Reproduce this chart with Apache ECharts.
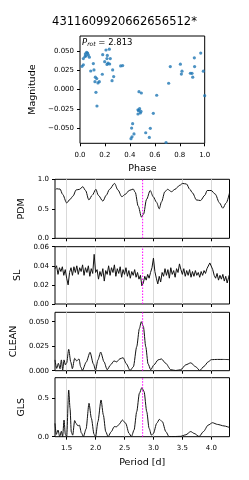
<!DOCTYPE html>
<html><head><meta charset="utf-8">
<script src="https://cdn.jsdelivr.net/npm/echarts@6/dist/echarts.min.js"></script>
<style>html,body{margin:0;padding:0;background:#fff}#c{width:249px;height:480px}</style>
</head><body><div id="c"></div>
<script>
const chartTitle = '4311609920662656512*';
const prot = 2.813;

const phase = [0.016,0.027,0.027,0.040,0.043,0.053,0.061,0.067,0.075,0.048,0.086,0.107,0.112,0.123,0.134,0.120,0.144,0.155,0.128,0.136,0.182,0.179,0.198,0.2085,0.219,0.216,0.225,0.235,0.243,0.238,0.2165,0.257,0.270,0.262,0.326,0.342,
  0.473,0.492,0.478,0.470,0.489,0.465,0.484,0.465,0.588,0.615,0.422,0.414,0.433,0.417,0.409,0.527,0.564,0.556,0.690,0.711,0.724,0.805,0.818,0.813,0.885,0.898,0.904,0.917,0.919,0.968,0.989,1.0];
const mag = [0.030,0.032,0.040,0.0425,0.046,0.048,0.047,0.0447,0.0418,0.0435,0.024,0.0335,0.0254,0.016,0.0142,0.0103,0.0086,0.0103,-0.0034,-0.021,0.045,0.0198,0.036,0.051,0.044,0.040,0.034,0.052,0.040,0.033,0.0325,0.0116,0.0168,0.0254,0.0305,0.031,
  -0.0026,-0.0043,-0.0245,-0.027,-0.028,-0.0313,-0.030,-0.026,-0.0304,-0.0072,-0.0438,-0.0494,-0.057,-0.0606,-0.063,-0.0554,-0.0498,-0.0614,-0.068,0.0082,0.0297,0.0327,0.0237,0.020,0.0211,0.021,0.016,0.0409,0.0297,0.047,0.0237,-0.0077];

const phaseTicks = [0, 0.2, 0.4, 0.6, 0.8, 1.0];
const magTicks = [-0.05, -0.025, 0, 0.025, 0.05];
const periodTicks = [1.5, 2.0, 2.5, 3.0, 3.5, 4.0];
const pdmTicks = [0, 0.5, 1.0];
const slTicks = [0, 0.02, 0.04, 0.06];
const cleanTicks = [0, 0.025, 0.05];
const glsTicks = [0, 0.5];

const pdmPeriod = [1.310,1.330,1.360,1.385,1.430,1.500,1.558,1.610,1.664,1.722,1.779,1.826,1.884,1.942,2.005,2.046,2.126,2.184,2.241,2.328,2.385,2.454,2.512,2.581,2.650,2.685,2.736,2.794,2.829,2.881,2.944,2.996,3.054,3.100,3.140,3.198,3.244,3.313,3.371,3.457,3.503,3.572,3.629,3.675,3.744,3.814,3.889,3.929,3.998,4.067,4.142,4.200,4.258,4.315];
const pdmValue = [0.83,0.84,0.835,0.835,0.745,0.60,0.66,0.717,0.82,0.83,0.875,0.81,0.65,0.73,0.83,0.73,0.63,0.73,0.83,0.93,0.82,0.705,0.745,0.81,0.835,0.78,0.547,0.36,0.41,0.66,0.81,0.705,0.61,0.50,0.62,0.79,0.83,0.79,0.83,0.90,0.93,0.92,0.83,0.77,0.65,0.64,0.73,0.81,0.81,0.75,0.60,0.51,0.60,0.77];

const slPeriod = [1.300,1.325,1.350,1.375,1.400,1.425,1.450,1.475,1.500,1.525,1.550,1.575,1.600,1.625,1.650,1.675,1.700,1.725,1.750,1.775,1.800,1.825,1.850,1.875,1.900,1.925,1.950,1.975,2.000,2.025,2.050,2.075,2.100,2.125,2.150,2.175,2.200,2.225,2.250,2.275,2.300,2.325,2.350,2.375,2.400,2.425,2.450,2.475,2.500,2.525,2.550,2.575,2.600,2.625,2.650,2.675,2.700,2.725,2.750,2.775,2.800,2.825,2.850,2.875,2.900,2.925,2.950,2.975,3.000,3.025,3.050,3.075,3.100,3.125,3.150,3.175,3.200,3.225,3.250,3.275,3.300,3.325,3.350,3.375,3.400,3.425,3.450,3.475,3.500,3.525,3.550,3.575,3.600,3.625,3.650,3.675,3.700,3.725,3.750,3.775,3.800,3.825,3.850,3.875,3.900,3.925,3.950,3.975,4.000,4.025,4.050,4.075,4.100,4.125,4.150,4.175,4.200,4.225,4.250,4.275,4.300,4.315];
const slValue = [0.037,0.040,0.031,0.038,0.034,0.039,0.030,0.036,0.027,0.020,0.033,0.038,0.030,0.039,0.033,0.040,0.031,0.038,0.034,0.041,0.030,0.038,0.033,0.040,0.029,0.037,0.032,0.052,0.033,0.036,0.026,0.034,0.029,0.037,0.024,0.035,0.031,0.040,0.030,0.038,0.033,0.041,0.029,0.037,0.032,0.039,0.028,0.036,0.031,0.038,0.029,0.035,0.027,0.034,0.030,0.036,0.028,0.033,0.026,0.030,0.019,0.022,0.029,0.025,0.031,0.027,0.033,0.038,0.048,0.034,0.027,0.021,0.029,0.023,0.033,0.029,0.037,0.030,0.036,0.027,0.038,0.031,0.035,0.028,0.037,0.033,0.042,0.036,0.031,0.037,0.029,0.035,0.030,0.036,0.028,0.034,0.029,0.035,0.030,0.033,0.028,0.034,0.030,0.035,0.032,0.037,0.039,0.043,0.044,0.036,0.030,0.027,0.032,0.025,0.030,0.026,0.031,0.024,0.029,0.022,0.028,0.031];

const cleanPeriod = [1.298,1.327,1.356,1.385,1.408,1.431,1.454,1.477,1.500,1.535,1.570,1.598,1.638,1.673,1.713,1.742,1.771,1.840,1.904,1.961,2.000,2.040,2.088,2.146,2.200,2.260,2.318,2.365,2.417,2.475,2.532,2.596,2.653,2.711,2.757,2.790,2.826,2.867,2.907,2.953,3.010,3.080,3.138,3.213,3.300,3.386,3.472,3.559,3.645,3.732,3.800,3.876,3.945,4.003,4.107,4.200,4.315];
const cleanValue = [0.011,0.0024,0.0075,0.002,0.011,0.0007,0.011,0.006,0.008,0.0218,0.009,0.002,0.0126,0.010,0.012,0.004,0.0003,0.009,0.0188,0.007,0.0007,0.011,0.019,0.009,0.001,0.006,0.010,0.009,0.012,0.0133,0.007,0.0002,0.004,0.0245,0.043,0.050,0.045,0.0245,0.007,0.001,0.006,0.011,0.012,0.0075,0.001,0.0002,0.001,0.006,0.008,0.004,0.0002,0.0045,0.009,0.0113,0.0115,0.0115,0.0113];

const glsPeriod = [1.298,1.320,1.350,1.379,1.408,1.430,1.454,1.477,1.500,1.535,1.558,1.580,1.604,1.638,1.660,1.696,1.720,1.754,1.790,1.835,1.886,1.927,1.973,2.000,2.040,2.094,2.134,2.175,2.215,2.273,2.320,2.365,2.405,2.463,2.520,2.578,2.620,2.665,2.711,2.757,2.800,2.838,2.884,2.925,2.965,3.000,3.057,3.103,3.155,3.213,3.270,3.357,3.470,3.560,3.645,3.703,3.790,3.865,3.945,4.020,4.107,4.220,4.315];
const glsValue = [0.174,0.03,0.087,0.002,0.07,0.002,0.217,0.03,0.002,0.608,0.37,0.06,0.02,0.21,0.175,0.14,0.15,0.05,0.002,0.10,0.435,0.24,0.03,0.002,0.195,0.478,0.283,0.067,0.002,0.067,0.13,0.13,0.16,0.217,0.175,0.043,0.002,0.087,0.326,0.565,0.638,0.586,0.326,0.109,0.02,0.043,0.175,0.226,0.195,0.067,0.002,0.002,0.005,0.025,0.067,0.043,0.002,0.067,0.15,0.182,0.16,0.14,0.12];

const FONT = 'DejaVu Sans';
const pMin = 1.298, pMax = 4.315;
const pairs = (xs, ys) => xs.map((x, i) => [x, ys[i]]);

const grids = [
  {left: 80, top: 36, width: 124.7, height: 107.3},
  {left: 55, top: 179.3, width: 174.5, height: 59},
  {left: 55, top: 246.7, width: 174.5, height: 57.3},
  {left: 55, top: 312.3, width: 174.5, height: 58.4},
  {left: 55, top: 377.7, width: 174.5, height: 59}
].map(g => Object.assign({show: true, borderColor: '#000', borderWidth: 1, backgroundColor: 'transparent', containLabel: false}, g));

const labelStyle = {fontFamily: FONT, fontSize: 7, color: '#000'};
const nameStyle = {fontFamily: FONT, fontSize: 9.5, color: '#000'};
const tick = vals => ({show: true, length: 3, inside: false, customValues: vals, lineStyle: {color: '#000', width: 1}});

function periodX(idx, showLabels) {
  return {
    type: 'value', gridIndex: idx, min: pMin, max: pMax,
    axisLine: {show: false, onZero: false},
    axisTick: tick(periodTicks),
    axisLabel: Object.assign({show: showLabels, margin: 8, customValues: periodTicks, formatter: v => v.toFixed(1)}, labelStyle),
    splitLine: {show: true, lineStyle: {color: '#d9d9d9', width: 1}},
    name: showLabels ? 'Period [d]' : '', nameLocation: 'middle', nameGap: 21, nameTextStyle: nameStyle
  };
}
function yAx(idx, min, max, ticks, dec, name, gap) {
  return {
    type: 'value', gridIndex: idx, min: min, max: max,
    axisLine: {show: false, onZero: false},
    axisTick: tick(ticks),
    axisLabel: Object.assign({margin: 6, customValues: ticks, formatter: v => v.toFixed(dec).replace('-', '\u2212')}, labelStyle),
    splitLine: {show: false},
    name: name, nameLocation: 'middle', nameRotate: 90, nameGap: gap, nameTextStyle: nameStyle
  };
}

function lineSeries(idx, data, smooth) {
  return {
    type: 'line', xAxisIndex: idx, yAxisIndex: idx, data: data, showSymbol: false, z: 2,
    smooth: smooth, smoothMonotone: 'x', lineStyle: {color: '#111', width: 1}, animation: false
  };
}
function protLine(idx, yMax) {
  return {
    type: 'line', xAxisIndex: idx, yAxisIndex: idx, data: [[prot, 0], [prot, yMax]],
    showSymbol: false, silent: true, z: 3, animation: false,
    lineStyle: {color: '#ff00ff', type: [1.5, 1.5], width: 1}
  };
}

const option = {
  animation: false,
  title: {text: chartTitle, left: 'center', top: 11, textStyle: {fontFamily: FONT, fontSize: 11.5, fontWeight: 'normal', color: '#000'}},
  grid: grids,
  xAxis: [
    {
      type: 'value', gridIndex: 0, min: 0, max: 1,
      axisLine: {show: false, onZero: false},
      axisTick: tick(phaseTicks),
      axisLabel: Object.assign({margin: 8, customValues: phaseTicks, formatter: v => v.toFixed(1)}, labelStyle),
      splitLine: {show: false},
      name: 'Phase', nameLocation: 'middle', nameGap: 20, nameTextStyle: nameStyle
    },
    periodX(1, false), periodX(2, false), periodX(3, false), periodX(4, true)
  ],
  yAxis: [
    yAx(0, -0.069, 0.069, magTicks, 3, 'Magnitude', 41),
    yAx(1, 0, 1, pdmTicks, 1, 'PDM', 28),
    yAx(2, 0, 0.06, slTicks, 2, 'SL', 30),
    yAx(3, 0, 0.0596, cleanTicks, 3, 'CLEAN', 32),
    yAx(4, 0, 0.768, glsTicks, 1, 'GLS', 28)
  ],
  graphic: [{
    type: 'text', left: 82, top: 38, silent: true,
    style: {
      text: '{p|P}{s|rot}{n| = ' + prot.toFixed(3) + '}',
      rich: {
        p: {fontFamily: FONT, fontSize: 8.5, fontStyle: 'italic', fill: '#000'},
        s: {fontFamily: FONT, fontSize: 6, fontStyle: 'italic', fill: '#000', verticalAlign: 'bottom', padding: [4, 0, 0, 0]},
        n: {fontFamily: FONT, fontSize: 8.5, fill: '#000'}
      }
    }
  }],
  series: [
    {type: 'scatter', xAxisIndex: 0, yAxisIndex: 0, data: pairs(phase, mag), symbolSize: 3.2,
     itemStyle: {color: '#1f77b4'}, animation: false},
    lineSeries(1, pairs(pdmPeriod, pdmValue), 0.3),
    lineSeries(2, pairs(slPeriod, slValue), false),
    lineSeries(3, pairs(cleanPeriod, cleanValue), 0.25),
    lineSeries(4, pairs(glsPeriod, glsValue), 0.25),
    protLine(1, 1), protLine(2, 0.06), protLine(3, 0.0596), protLine(4, 0.768)
  ]
};
const chart = echarts.init(document.getElementById('c'), null, {renderer: 'canvas'});
chart.setOption(option);
</script></body></html>
